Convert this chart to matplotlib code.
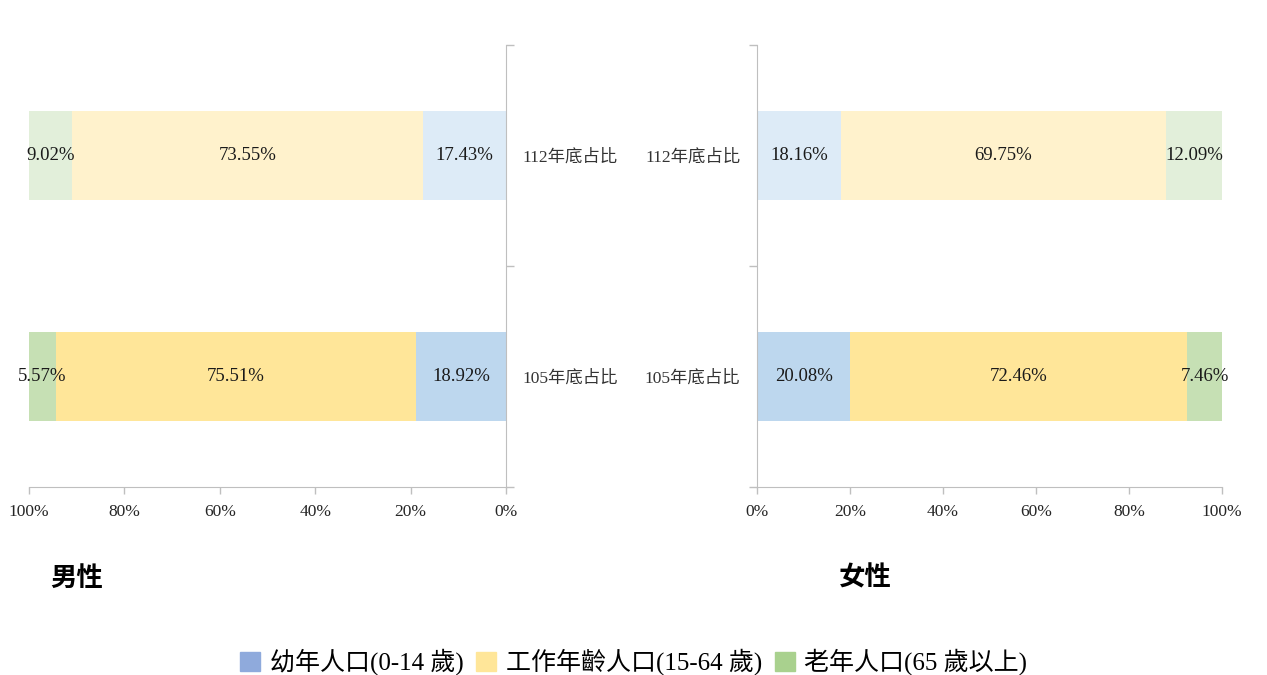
import numpy as np
import matplotlib.pyplot as plt

plt.rcParams['font.family'] = ['Liberation Serif', 'Noto Sans CJK TC']

# data
years = ['105年底占比', '112年底占比']
groups = ['幼年人口(0-14 歲)', '工作年齡人口(15-64 歲)', '老年人口(65 歲以上)']
male = {'幼年': [18.92, 17.43], '工作': [75.51, 73.55], '老年': [5.57, 9.02]}
female = {'幼年': [20.08, 18.16], '工作': [72.46, 69.75], '老年': [7.46, 12.09]}
panel_titles = ['男性', '女性']

# row colors: 105 darker, 112 lighter
bar_colors = {
    '幼年': ['#BDD7EE', '#DDEBF7'],
    '工作': ['#FFE699', '#FFF2CC'],
    '老年': ['#C6E0B4', '#E2EFDA'],
}
legend_colors = ['#8FAADC', '#FFE699', '#A9D18E']
spine_col = '#BFBFBF'

fig = plt.figure(figsize=(12.67, 6.75), dpi=100)
axL = fig.add_axes([29 / 1267, 1 - 487 / 675, 477 / 1267, 442 / 675])
axR = fig.add_axes([757 / 1267, 1 - 487 / 675, 465 / 1267, 442 / 675])

ypos = np.arange(len(years))


def draw(ax, data, side):
    left = np.zeros(len(years))
    for key in ['幼年', '工作', '老年']:
        vals = np.array(data[key])
        ax.barh(ypos, vals, left=left, height=0.4, color=bar_colors[key], linewidth=0)
        for y, v, l in zip(ypos, vals, left):
            ax.text(l + v / 2, y, f'{v:.2f}%', ha='center', va='center',
                    fontsize=13.5, color='#1a1a1a')
        left += vals
    ax.set_xlim(0, 100)
    ax.set_ylim(-0.5, 1.5)
    ax.set_xticks(np.arange(0, 101, 20))
    ax.set_xticklabels([f'{t}%' for t in range(0, 101, 20)], fontsize=12.5, color='#262626')
    ax.set_yticks([-0.5, 0.5, 1.5])
    ax.set_yticklabels([])
    ax.set_yticks(ypos, minor=True)
    ax.set_yticklabels(years, minor=True, fontsize=12.5, color='#333333')
    ax.tick_params(axis='y', which='minor', length=0, pad=12)
    ax.tick_params(axis='y', which='major', length=6, color=spine_col, width=1)
    ax.tick_params(axis='x', length=5, color=spine_col, width=1, pad=7)
    for s in ax.spines.values():
        s.set_visible(False)
    ax.spines['bottom'].set_visible(True)
    ax.spines['bottom'].set_color(spine_col)
    if side == 'left':
        ax.invert_xaxis()
        ax.yaxis.tick_right()
        ax.spines['right'].set_visible(True)
        ax.spines['right'].set_color(spine_col)
    else:
        ax.spines['left'].set_visible(True)
        ax.spines['left'].set_color(spine_col)


draw(axL, male, 'left')
draw(axR, female, 'right')

fig.text(50 / 1267, 1 - 578 / 675, panel_titles[0], fontsize=19, fontweight='bold',
         family='Noto Sans CJK TC', va='center', ha='left')
fig.text(839 / 1267, 1 - 578 / 675, panel_titles[1], fontsize=19, fontweight='bold',
         family='Noto Sans CJK TC', va='center', ha='left')

handles = [plt.Rectangle((0, 0), 1, 1, color=c) for c in legend_colors]
fig.legend(handles, groups, loc='center', bbox_to_anchor=(0.5, 1 - 662 / 675), ncol=3,
           frameon=False, fontsize=18, handlelength=0.8, handleheight=0.8,
           handletextpad=0.4, columnspacing=0.5)

fig.savefig('out.png', dpi=100)
